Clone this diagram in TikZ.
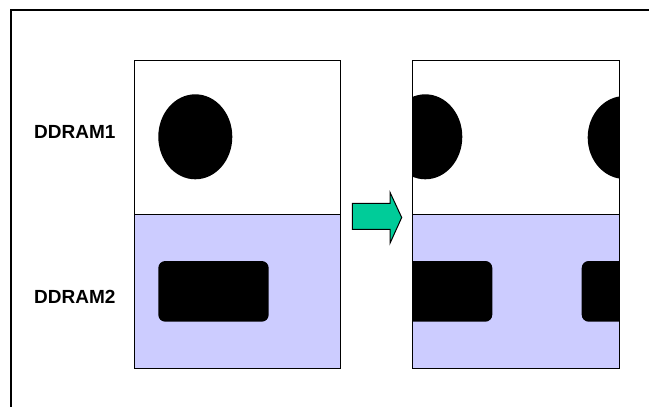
\documentclass[tikz,border=0pt]{standalone}
\usepackage{fontspec}
\setmainfont{Liberation Sans}
\definecolor{lav}{HTML}{CCCCFF}
\definecolor{arrowgreen}{HTML}{00CC99}
\begin{document}
\begin{tikzpicture}[x=1pt,y=-1pt,
  panel/.style={draw=black,line width=1pt},
  blob/.style={fill=black},
  lbl/.style={font=\bfseries\fontsize{19}{19}\selectfont,anchor=west,inner sep=0pt}]
\useasboundingbox (0,0) rectangle (649,407);
% outer frame
\draw[line width=1.5pt] (11,407) -- (11,10) -- (649,10);
% left panel
\fill[lav] (134.7,214.3) rectangle (340.7,368.3);
\fill[blob] (195.3,136.8) ellipse [x radius=37,y radius=42.5];
\fill[blob,rounded corners=7pt] (158.3,261) rectangle (268.7,321.7);
\draw[panel] (134.7,60.7) rectangle (340.7,368.3);
\draw[panel] (134.7,214.3) -- (340.7,214.3);
% right panel
\fill[lav] (412.7,214.3) rectangle (619,368.3);
\begin{scope}
\clip (412.7,60.7) rectangle (619,368.3);
\fill[blob] (425.3,136.8) ellipse [x radius=37,y radius=42.5];
\fill[blob] (624.7,137.5) ellipse [x radius=37,y radius=41.5];
\fill[blob,rounded corners=7pt] (382,261) rectangle (492.3,321.7);
\fill[blob,rounded corners=7pt] (581.7,261) rectangle (692,321.7);
\end{scope}
\draw[panel] (412.7,60.7) rectangle (619,368.3);
\draw[panel] (412.7,214.3) -- (619,214.3);
% arrow
\draw[fill=arrowgreen,line width=1pt,line join=miter]
  (352.3,203.3) -- (390,203.3) -- (390,192.3) -- (401.7,217.5) -- (390,243.3) -- (390,229.3) -- (352.3,229.3) -- cycle;
% labels
\node[lbl] (d1) at (34,131.7) {DDRAM1};
\node[lbl] (d2) at (34,296.7) {DDRAM2};
\end{tikzpicture}
\end{document}
